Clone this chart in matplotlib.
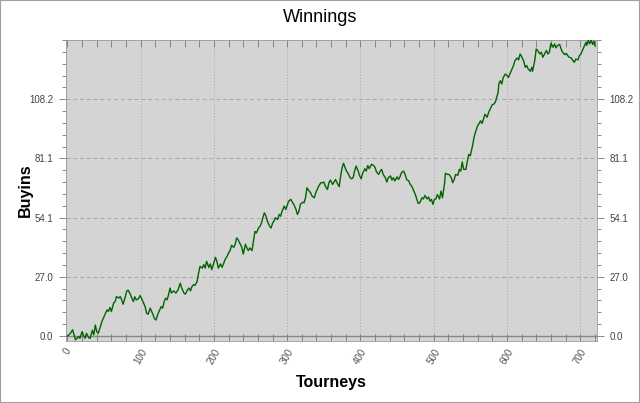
"""
Winnings chart: cumulative buyins over tourneys
"""
import matplotlib
matplotlib.use("Agg")
import matplotlib.pyplot as plt
from matplotlib.patches import Rectangle
from matplotlib.ticker import MultipleLocator
import numpy as np

# values
tourneys = [
    0, 1, 4, 7, 9, 11, 15, 17, 20, 22, 24, 26, 29, 31, 34, 36, 38, 40, 42, 45,
    47, 49, 51, 54, 56, 58, 60, 63, 65, 67, 70, 72, 74, 76, 79, 81, 83, 85, 88, 90,
    92, 94, 97, 99, 101, 104, 106, 108, 110, 113, 115, 117, 119, 121, 123, 125, 128, 130, 132, 134,
    136, 138, 140, 142, 145, 148, 151, 154, 156, 159, 161, 164, 166, 168, 170, 172, 174, 177, 179, 181,
    184, 186, 188, 190, 193, 195, 197, 199, 202, 204, 206, 209, 211, 213, 215, 218, 220, 222, 224, 227,
    229, 231, 233, 236, 238, 240, 243, 245, 247, 249, 252, 254, 256, 258, 261, 263, 265, 268, 269, 271,
    273, 276, 278, 280, 282, 284, 287, 289, 291, 293, 296, 298, 300, 302, 305, 307, 309, 312, 314, 316,
    318, 321, 323, 325, 327, 330, 332, 334, 337, 339, 341, 343, 346, 348, 350, 352, 355, 357, 359, 362,
    364, 366, 368, 371, 373, 375, 377, 379, 381, 383, 386, 388, 390, 392, 394, 397, 399, 401, 403, 406,
    408, 410, 412, 415, 418, 420, 422, 425, 427, 429, 431, 434, 436, 438, 441, 443, 445, 447, 450, 452,
    454, 456, 459, 461, 463, 466, 468, 470, 472, 475, 477, 479, 481, 484, 486, 488, 491, 493, 495, 497,
    499, 501, 503, 505, 508, 510, 512, 515, 516, 519, 521, 524, 526, 528, 530, 533, 535, 537, 539, 541,
    544, 546, 548, 550, 553, 555, 557, 560, 562, 564, 566, 568, 570, 573, 575, 577, 580, 582, 584, 585,
    588, 589, 591, 593, 595, 598, 600, 602, 605, 607, 609, 611, 614, 616, 618, 620, 623, 625, 627, 629,
    632, 634, 635, 638, 640, 642, 645, 647, 649, 651, 654, 656, 658, 660, 663, 665, 667, 669, 672, 674,
    676, 679, 681, 683, 685, 688, 690, 692, 694, 697, 699, 701, 704, 706, 708, 709, 711, 713, 715, 717,
    719, 720,
]
buyins = [
    0.0, 0.2, 1.2, 2.8, 0.5, -1.8, -0.3, -1.1, 2.0, 0.2, -1.1, 1.2, -0.8, -1.1, 2.6, 0.5, 5.0, 2.0, 1.2, 4.3,
    6.6, 8.1, 9.6, 11.9, 11.2, 13.0, 11.2, 15.0, 15.7, 18.0, 17.3, 18.0, 16.5, 14.5, 18.0, 20.6, 20.9, 19.6, 17.3, 15.7,
    17.9, 16.5, 17.0, 18.5, 17.3, 15.0, 13.4, 10.4, 9.9, 12.7, 11.2, 9.6, 7.8, 7.3, 9.6, 11.2, 13.4, 12.7, 15.7, 17.3,
    16.5, 18.8, 21.9, 19.6, 20.6, 19.6, 21.1, 24.1, 21.9, 19.6, 19.1, 21.1, 21.9, 20.6, 22.6, 23.4, 23.1, 24.9, 28.7, 31.8,
    31.0, 32.6, 31.0, 34.1, 31.3, 32.9, 30.3, 32.6, 35.9, 34.1, 31.0, 32.9, 31.3, 32.9, 34.8, 36.4, 37.9, 39.0, 41.4, 40.5,
    41.9, 44.8, 44.0, 41.9, 40.5, 37.4, 41.9, 40.2, 39.0, 40.2, 39.0, 43.3, 47.8, 47.1, 49.4, 50.1, 51.7, 55.5, 56.2, 54.7,
    52.4, 50.1, 49.3, 51.5, 52.5, 54.0, 53.2, 55.5, 54.7, 57.0, 59.3, 57.8, 59.6, 61.6, 62.4, 61.1, 60.1, 57.8, 55.5, 57.0,
    60.1, 61.1, 60.8, 63.1, 67.7, 66.2, 65.4, 63.9, 63.1, 65.4, 66.9, 68.5, 70.0, 70.0, 70.3, 68.5, 66.9, 70.0, 71.2, 69.2,
    70.3, 71.5, 70.0, 68.2, 73.1, 76.9, 78.9, 76.9, 75.3, 74.3, 72.3, 71.8, 72.3, 75.3, 77.6, 75.3, 73.1, 71.8, 74.3, 76.4,
    75.3, 77.9, 76.4, 78.4, 77.9, 76.9, 74.9, 73.8, 75.3, 76.1, 73.8, 72.3, 70.3, 72.3, 73.1, 71.2, 72.3, 70.8, 72.7, 71.5,
    72.7, 74.6, 75.3, 73.8, 71.5, 70.8, 69.2, 68.5, 66.9, 64.6, 62.4, 60.5, 60.8, 63.1, 62.6, 64.2, 62.6, 63.5, 61.6, 62.4,
    60.1, 62.4, 62.6, 64.6, 62.6, 66.2, 63.1, 70.0, 74.3, 73.8, 73.8, 72.3, 70.0, 71.5, 73.8, 73.4, 76.1, 75.3, 79.5, 76.1,
    76.1, 79.9, 83.0, 82.3, 86.8, 90.6, 93.0, 96.0, 97.0, 98.3, 97.1, 99.0, 101.3, 99.9, 102.1, 103.6, 105.6, 105.9, 106.7, 107.7,
    111.3, 115.1, 116.6, 115.1, 118.1, 119.7, 119.0, 118.1, 120.4, 122.0, 123.5, 125.8, 127.0, 126.1, 128.8, 127.7, 125.5, 122.7, 123.5, 122.0,
    120.9, 122.7, 120.9, 125.8, 131.1, 130.4, 128.8, 129.6, 127.3, 128.5, 130.4, 128.8, 129.6, 133.7, 131.9, 133.4, 131.6, 132.7, 133.2, 131.1,
    129.6, 128.5, 129.1, 128.1, 127.3, 127.0, 125.8, 125.0, 126.5, 126.1, 128.1, 128.8, 131.1, 132.7, 134.2, 132.7, 135.0, 133.4, 135.2, 133.2,
    134.6, 132.7,
]
y_step = 27.04
y_major = [0, 1, 2, 3, 4]
x_major = [0, 100, 200, 300, 400, 500, 600, 700]

plt.rcParams['font.family'] = ['Liberation Sans', 'DejaVu Sans']

fig = plt.figure(figsize=(6.4, 4.03), dpi=100)
ax = fig.add_axes([66 / 640, 1 - 341 / 403, (597 - 66) / 640, (341 - 40) / 403])
ax.set_facecolor('#d4d4d4')

# grid
yticks = [k * y_step for k in y_major]
for yv in yticks[1:]:
    ax.axhline(yv, color='#a8a8a8', linestyle=(0, (4, 3)), linewidth=0.7, zorder=1)
for xv in x_major[1:]:
    ax.axvline(xv, color='#a8a8a8', linestyle=(0, (1, 2)), linewidth=0.7, zorder=1)
ax.axhline(0, color='#888888', linewidth=1.0, zorder=1)

ax.plot(tourneys, buyins, color='#006400', linewidth=1.0, zorder=3)

ax.set_xlim(-2, 723)
ax.set_ylim(-2.3, 135.2)

ax.set_xticks(x_major)
ax.set_xticklabels([str(v) for v in x_major], rotation=60, ha='center', va='top')
ax.xaxis.set_minor_locator(MultipleLocator(20))
ax.set_yticks(yticks)
ax.set_yticklabels([f"{v:.1f}" for v in yticks])
ax.yaxis.set_minor_locator(MultipleLocator(y_step / 5))

ax.tick_params(axis='y', which='both', left=True, right=True, labelleft=True, labelright=True,
               direction='out', colors='#777777', labelcolor='#444444', labelsize=7)
ax.tick_params(axis='y', which='major', length=5, width=0.6, pad=4)
ax.tick_params(axis='y', which='minor', length=3, width=0.6)
ax.tick_params(axis='x', which='both', bottom=True, top=True, direction='in',
               colors='#777777', labelcolor='#555555', labelsize=7)
ax.tick_params(axis='x', which='major', length=5, width=0.6, pad=4)
ax.tick_params(axis='x', which='minor', length=5, width=0.6)

for s in ax.spines.values():
    s.set_color('#999999')
    s.set_linewidth(0.6)

fig.text(0.5, 1 - 18 / 403, "Winnings", ha='center', va='center', fontsize=13)
fig.text(25 / 640, 1 - 190 / 403, "Buyins", ha='center', va='center', rotation=90,
         fontsize=11.5, fontweight='bold')
fig.text(331 / 640, 1 - 383 / 403, "Tourneys", ha='center', va='center',
         fontsize=11.5, fontweight='bold')

# thin border round the whole picture
fig.patches.append(Rectangle((0, 0), 1, 1, transform=fig.transFigure, fill=False,
                             edgecolor='#a0a0a0', linewidth=1.5))

fig.savefig("out.png", dpi=100)
